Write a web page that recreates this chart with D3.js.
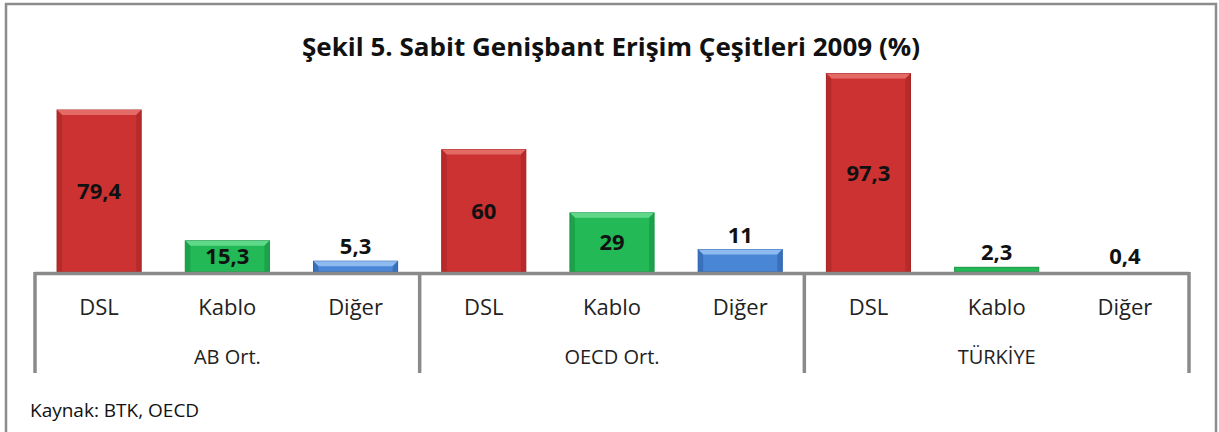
<!DOCTYPE html>
<html>
<head>
<meta charset="utf-8">
<script src="https://cdn.jsdelivr.net/npm/d3@7"></script>
<style>
  body { margin: 0; background: #fff; }
  svg text { font-family: "Open Sans", "DejaVu Sans", sans-serif; }
</style>
</head>
<body>
<svg id="drawing_region"></svg>
<script>
// data
const groups = ["AB Ort.", "OECD Ort.", "TÜRKİYE"];
const categories = ["DSL", "Kablo", "Diğer"];
const dslValues = [79.4, 60, 97.3];
const kabloValues = [15.3, 29, 2.3];
const digerValues = [5.3, 11, 0.4];
const valueLabels = [["79,4", "15,3", "5,3"], ["60", "29", "11"], ["97,3", "2,3", "0,4"]];
const title = "Şekil 5. Sabit Genişbant Erişim Çeşitleri 2009 (%)";
const source = "Kaynak: BTK, OECD";

const colors = {
    "DSL":   {base: "#cc3232", light: "#e46a66", dark: "#a82525"},
    "Kablo": {base: "#22b956", light: "#5fd88a", dark: "#179342"},
    "Diğer": {base: "#4a86d6", light: "#8dbbf0", dark: "#2f63ad"}
};

const series = [dslValues, kabloValues, digerValues];
const data = [];
groups.forEach((g, gi) => {
    categories.forEach((c, ci) => {
        data.push({group: g, cat: c, value: series[ci][gi], label: valueLabels[gi][ci]});
    });
});

const width = 1219, height = 432;
const svg = d3.select("#drawing_region")
    .attr("width", width)
    .attr("height", height);

// frame
svg.append("rect")
    .attr("x", 6).attr("y", 4)
    .attr("width", 1210).attr("height", 440)
    .attr("fill", "#fff")
    .attr("stroke", "#8c8c8c")
    .attr("stroke-width", 2.5);

svg.append("text")
    .attr("x", 611).attr("y", 56)
    .attr("text-anchor", "middle")
    .attr("font-size", 25)
    .attr("font-weight", 700)
    .attr("textLength", 618)
    .attr("lengthAdjust", "spacingAndGlyphs")
    .attr("fill", "#111")
    .text(title);

// scales
const xgroup = d3.scaleBand()
    .domain(groups)
    .range([35, 1189]);
const xcat = d3.scaleBand()
    .domain(categories)
    .range([0, xgroup.bandwidth()])
    .paddingInner(0.344)
    .paddingOuter(0.172);
const yscale = d3.scaleLinear()
    .domain([0, 100])
    .range([272, 68]);

const chart = svg.append("g");

const bars = chart.selectAll("g.bar").data(data).enter()
    .append("g")
    .attr("class", "bar")
    .attr("transform", d => `translate(${xgroup(d.group) + xcat(d.cat)}, 0)`);

const bw = xcat.bandwidth();

bars.filter(d => yscale(0) - yscale(d.value) > 1.5)
    .append("rect")
    .attr("x", 0)
    .attr("y", d => yscale(d.value))
    .attr("width", bw)
    .attr("height", d => yscale(0) - yscale(d.value))
    .attr("fill", d => colors[d.cat].base)
    .attr("stroke", d => colors[d.cat].dark)
    .attr("stroke-width", 1);

// bevel: top light edge and darker sides
bars.filter(d => yscale(0) - yscale(d.value) > 6)
    .append("path")
    .attr("d", d => {
        const t = yscale(d.value), b = 5;
        return `M0,${t} L${bw},${t} L${bw - b},${t + b} L${b},${t + b} Z`;
    })
    .attr("fill", d => colors[d.cat].light);

bars.filter(d => yscale(0) - yscale(d.value) > 6)
    .append("path")
    .attr("d", d => {
        const t = yscale(d.value), b = 5, y0 = yscale(0);
        return `M0,${t} L${b},${t + b} L${b},${y0} L0,${y0} Z M${bw},${t} L${bw - b},${t + b} L${bw - b},${y0} L${bw},${y0} Z`;
    })
    .attr("fill", d => colors[d.cat].dark)
    .attr("opacity", 0.6);

// value labels
bars.append("text")
    .attr("x", bw / 2)
    .attr("y", d => {
        const h = yscale(0) - yscale(d.value);
        return h > 25 ? yscale(d.value / 2) + 8 : yscale(d.value) - 7;
    })
    .attr("text-anchor", "middle")
    .attr("font-size", 22)
    .attr("font-weight", 700)
    .attr("fill", "#111")
    .text(d => d.label);

// category axis
const axis = svg.append("g").attr("stroke", "#8a8a8a").attr("stroke-width", 3.5);
axis.append("line")
    .attr("x1", xgroup.range()[0]).attr("x2", xgroup.range()[1])
    .attr("y1", yscale(0) + 1.5).attr("y2", yscale(0) + 1.5);
axis.selectAll("line.sep")
    .data(groups.map(g => xgroup(g)).concat([xgroup.range()[1]]))
    .enter().append("line")
    .attr("class", "sep")
    .attr("x1", d => d).attr("x2", d => d)
    .attr("y1", yscale(0)).attr("y2", 373);

data.forEach(d => {
    svg.append("text")
        .attr("x", xgroup(d.group) + xcat(d.cat) + bw / 2)
        .attr("y", 315)
        .attr("text-anchor", "middle")
        .attr("font-size", 22)
        .attr("fill", "#222")
        .text(d.cat);
});

svg.selectAll("text.grp").data(groups).enter()
    .append("text")
    .attr("class", "grp")
    .attr("x", d => xgroup(d) + xgroup.bandwidth() / 2)
    .attr("y", 364)
    .attr("text-anchor", "middle")
    .attr("font-size", 20)
    .attr("fill", "#222")
    .text(d => d);

svg.append("text")
    .attr("x", 30).attr("y", 417)
    .attr("font-size", 19)
    .attr("fill", "#111")
    .text(source);
</script>
</body>
</html>
